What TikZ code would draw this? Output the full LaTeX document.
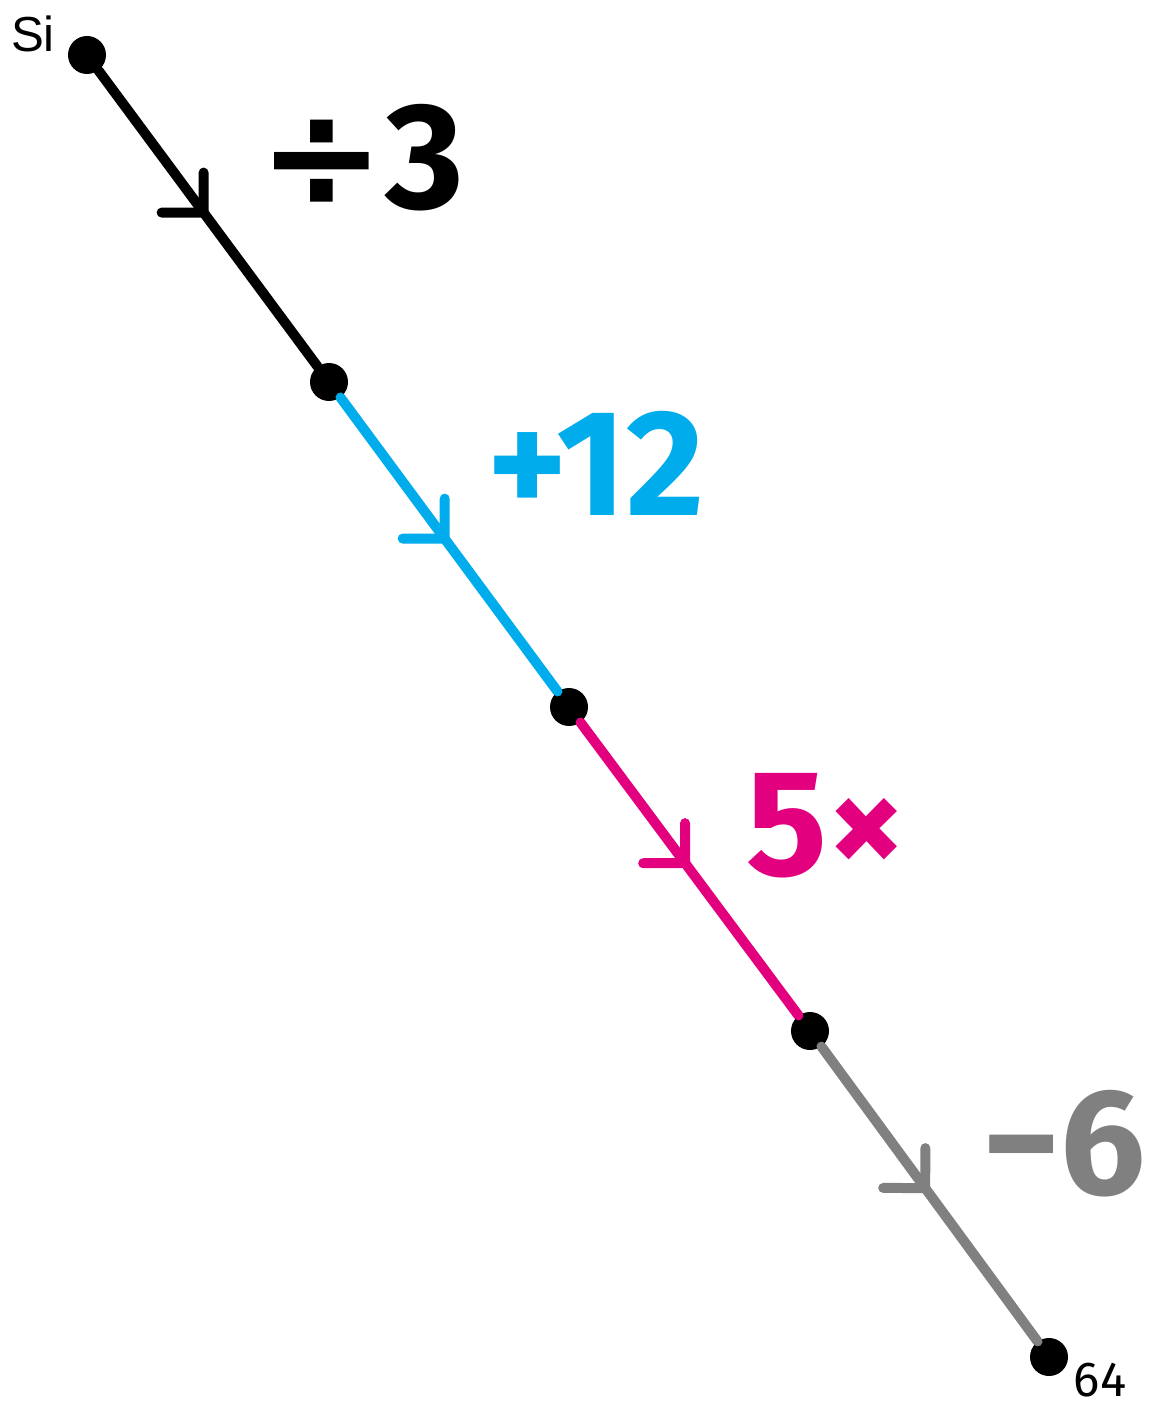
\documentclass[tikz,border=0pt]{standalone}
\usepackage{fontspec}
\setmainfont{Fira Sans}
\newfontfamily\labelfont{Liberation Sans}
\newfontfamily\signfont{DejaVu Sans}
\usetikzlibrary{decorations.markings}

\definecolor{stepcyan}{RGB}{0,172,236}
\definecolor{stepmagenta}{RGB}{226,0,126}
\definecolor{stepgray}{RGB}{128,128,128}

\tikzset{
  dot/.style={circle,fill=black,inner sep=0pt,minimum size=0.76cm},
  seg/.style={line width=0.2cm,line cap=round},
  midarrow/.style={postaction={decorate,decoration={markings,
      mark=at position 0.48 with {\draw[line width=0.2cm,line cap=round,line join=round]
        (143.5:0.8cm) -- (0,0) -- (-126.5:0.84cm);}}}},
  oplabel/.style={font=\fontsize{86}{90}\selectfont\bfseries}
}

\begin{document}
\begin{tikzpicture}[x=0.02cm,y=-0.02cm]
  \useasboundingbox (0,0) rectangle (1153,1408);

  % Points on the chain
  \node[dot] (A) at (87,55) {};
  \node[dot] (B) at (329,382) {};
  \node[dot] (C) at (569,707) {};
  \node[dot] (D) at (810,1031) {};
  \node[dot] (E) at (1049,1357) {};

  % Steps
  \draw[seg,midarrow,black] (A) -- (B);
  \draw[seg,midarrow,stepcyan] (B) -- (C);
  \draw[seg,midarrow,stepmagenta] (C) -- (D);
  \draw[seg,midarrow,stepgray] (D) -- (E);

  % Operation labels
  \node[oplabel,black] (opA) at (361,158) {{\signfont ÷}3};
  \node[oplabel,stepcyan] (opB) at (596,463) {+12};
  \node[oplabel,stepmagenta] (opC) at (826,826) {5×};
  \node[oplabel,stepgray] (opD) at (1064,1144) {−6};

  % Start and end labels
  \node[font=\labelfont\fontsize{28}{30}\selectfont] (start) at (33,34) {Si};
  \node[font=\fontsize{28}{30}\selectfont,inner sep=0pt] (end) at (1100,1380) {64};
\end{tikzpicture}
\end{document}
